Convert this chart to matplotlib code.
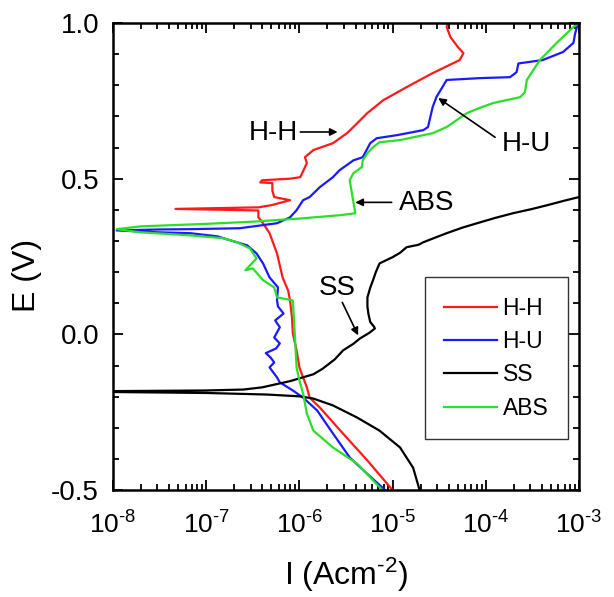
import numpy as np
import matplotlib
matplotlib.use("Agg")
import matplotlib.pyplot as plt
from matplotlib.ticker import FixedLocator, MultipleLocator, LogLocator, NullFormatter, FuncFormatter

plt.rcParams['font.family'] = ['Liberation Sans', 'DejaVu Sans']
plt.rcParams['mathtext.fontset'] = 'custom'
plt.rcParams['mathtext.rm'] = 'Liberation Sans'
plt.rcParams['mathtext.it'] = 'Liberation Sans:italic'
plt.rcParams['mathtext.bf'] = 'Liberation Sans:bold'
plt.rcParams['axes.unicode_minus'] = False

# ---- data: log10 of current density (A/cm^2) and potential (V) ----
hh_logI = [-5.00, -5.27, -5.56, -5.78, -5.89, -5.92, -5.96, -6.00, -6.03, -6.07, -6.08, -6.10,
           -6.12, -6.18, -6.24, -6.32, -6.39, -6.44, -6.44, -7.33, -6.44, -6.30, -6.10, -6.27,
           -6.29, -6.29, -6.42, -6.40, -6.10, -5.99, -5.92, -5.94, -5.85, -5.64, -5.49, -5.42,
           -5.27, -5.10, -4.85, -4.57, -4.28, -4.24, -4.30, -4.38, -4.42, -4.41]
hh_E = [-0.500, -0.405, -0.309, -0.235, -0.203, -0.170, -0.138, -0.106, -0.051, 0.003, 0.055, 0.109,
        0.140, 0.183, 0.260, 0.325, 0.357, 0.376, 0.398, 0.403, 0.408, 0.415, 0.431, 0.441,
        0.462, 0.486, 0.488, 0.495, 0.500, 0.505, 0.550, 0.569, 0.592, 0.614, 0.646, 0.666,
        0.711, 0.752, 0.794, 0.839, 0.881, 0.903, 0.923, 0.955, 0.987, 1.000]

hu_logI = [-5.08, -5.30, -5.46, -5.64, -5.81, -5.96, -6.07, -6.21, -6.24, -6.32, -6.27, -6.31,
           -6.36, -6.25, -6.21, -6.27, -6.21, -6.26, -6.17, -6.23, -6.24, -6.23, -6.32, -6.39,
           -6.46, -6.56, -6.74, -6.88, -7.17, -7.53, -7.96, -7.50, -7.17, -6.64, -6.24, -6.10,
           -6.03, -5.96, -5.89, -5.78, -5.64, -5.57, -5.42, -5.32, -5.24, -5.17, -4.95, -4.67,
           -4.62, -4.57, -4.53, -4.42, -4.06, -3.74, -3.67, -3.65, -3.39, -3.17, -3.06, -3.04, -3.01]
hu_E = [-0.500, -0.440, -0.395, -0.318, -0.244, -0.203, -0.180, -0.154, -0.138, -0.106, -0.090, -0.074,
        -0.060, -0.045, -0.029, -0.010, 0.023, 0.045, 0.067, 0.090, 0.109, 0.151, 0.183, 0.228,
        0.260, 0.286, 0.302, 0.315, 0.325, 0.328, 0.334, 0.337, 0.338, 0.341, 0.357, 0.376,
        0.399, 0.431, 0.441, 0.473, 0.505, 0.527, 0.559, 0.569, 0.614, 0.630, 0.640, 0.656,
        0.666, 0.730, 0.762, 0.817, 0.823, 0.826, 0.842, 0.870, 0.881, 0.907, 0.936, 0.968, 1.000]

ss_logI = [-4.71, -4.78, -4.92, -5.14, -5.38, -5.64, -5.85, -5.99, -6.35, -7.00, -7.98,
           -7.98, -7.00, -6.60, -6.40, -6.10, -5.85, -5.75, -5.62, -5.53, -5.42, -5.35, -5.25,
           -5.19, -5.20, -5.24, -5.26, -5.27, -5.27, -5.24, -5.21, -5.18, -5.14, -5.00, -4.92,
           -4.85, -4.72, -4.67, -4.55, -4.42, -4.25, -4.06, -3.90, -3.71, -3.50, -3.34, -3.15, -3.00]
ss_E = [-0.500, -0.428, -0.363, -0.309, -0.267, -0.228, -0.206, -0.199, -0.193, -0.188, -0.185,
        -0.182, -0.180, -0.177, -0.170, -0.150, -0.128, -0.110, -0.080, -0.051, -0.030, -0.013, 0.005,
        0.019, 0.025, 0.040, 0.067, 0.090, 0.119, 0.150, 0.174, 0.200, 0.228, 0.248, 0.262,
        0.280, 0.288, 0.296, 0.310, 0.325, 0.343, 0.360, 0.374, 0.389, 0.403, 0.415, 0.430, 0.441]

abs_logI = [-5.11, -5.38, -5.64, -5.85, -5.92, -5.96, -6.00, -6.03, -6.05, -6.07, -6.24, -6.27,
            -6.39, -6.50, -6.58, -6.46, -6.53, -6.67, -6.82, -7.17, -7.71, -7.96, -7.70, -7.00,
            -6.50, -6.00, -5.56, -5.40, -5.46, -5.42, -5.33, -5.32, -5.27, -5.21, -5.14, -4.92,
            -4.78, -4.57, -4.42, -4.20, -4.06, -3.92, -3.63, -3.58, -3.56, -3.42, -3.24, -3.06, -3.00]
abs_E = [-0.500, -0.415, -0.363, -0.309, -0.254, -0.190, -0.148, -0.106, 0.003, 0.109, 0.119, 0.151,
         0.174, 0.212, 0.206, 0.244, 0.276, 0.296, 0.309, 0.318, 0.328, 0.338, 0.347, 0.355,
         0.362, 0.372, 0.383, 0.389, 0.495, 0.518, 0.537, 0.559, 0.582, 0.601, 0.617, 0.624,
         0.633, 0.646, 0.666, 0.711, 0.728, 0.743, 0.762, 0.778, 0.817, 0.881, 0.936, 0.987, 1.000]

series_names = ['H-H', 'H-U', 'SS', 'ABS']
series_colors = ['#ff1a1a', '#1a1aff', '#000000', '#2ade2a']

x_ticks = [1e-8, 1e-7, 1e-6, 1e-5, 1e-4, 1e-3]
y_ticks = [-0.5, 0.0, 0.5, 1.0]

fig = plt.figure(figsize=(6.14, 5.97), dpi=100)
ax = fig.add_axes([0.184, 0.179, 0.759, 0.7825])

data = [(hh_logI, hh_E), (hu_logI, hu_E), (ss_logI, ss_E), (abs_logI, abs_E)]
for (lg, e), name, col in zip(data, series_names, series_colors):
    ax.plot(10 ** np.array(lg), e, color=col, lw=1.6, label=name)

ax.set_xscale('log')
ax.set_xlim(1e-8, 1e-3)
ax.set_ylim(-0.5, 1.0)
ax.xaxis.set_major_locator(FixedLocator(x_ticks))
ax.xaxis.set_major_formatter(FuncFormatter(
    lambda v, p: r'$10^{\text{%d}}$' % int(round(np.log10(v)))))
ax.xaxis.set_minor_locator(LogLocator(base=10, subs=np.arange(2, 10), numticks=20))
ax.xaxis.set_minor_formatter(NullFormatter())
ax.yaxis.set_major_locator(FixedLocator(y_ticks))
ax.yaxis.set_minor_locator(MultipleLocator(0.1))
ax.yaxis.set_major_formatter(FuncFormatter(lambda v, p: '%.1f' % v))

for s in ax.spines.values():
    s.set_linewidth(1.8)
ax.tick_params(which='both', direction='in', top=True, right=True, width=1.3)
ax.tick_params(which='major', length=7)
ax.tick_params(which='minor', length=4)
ax.tick_params(axis='x', which='major', labelsize=19, pad=15)
ax.tick_params(axis='y', which='major', labelsize=20, pad=10)

ax.set_xlabel(r'I (Acm$^{\text{-2}}$)', fontsize=23)
ax.set_ylabel('E (V)', fontsize=23)
ax.xaxis.set_label_coords(0.5, -0.14)
ax.yaxis.set_label_coords(-0.152, 0.46)

ap = dict(arrowstyle='-|>', color='black', lw=1.2, mutation_scale=11, shrinkA=0, shrinkB=0)
ax.annotate('', xy=(10 ** -5.59, 0.650), xytext=(10 ** -5.99, 0.650), arrowprops=ap)
ax.text(10 ** -6.28, 0.648, 'H-H', fontsize=20, ha='center', va='center')
ax.annotate('', xy=(10 ** -4.51, 0.759), xytext=(10 ** -3.90, 0.633), arrowprops=ap)
ax.text(10 ** -3.57, 0.612, 'H-U', fontsize=20, ha='center', va='center')
ax.annotate('', xy=(10 ** -5.40, 0.424), xytext=(10 ** -5.01, 0.424), arrowprops=ap)
ax.text(10 ** -4.63, 0.422, 'ABS', fontsize=20, ha='center', va='center')
ax.annotate('', xy=(10 ** -5.37, -0.003), xytext=(10 ** -5.54, 0.103), arrowprops=ap)
ax.text(10 ** -5.59, 0.149, 'SS', fontsize=20, ha='center', va='center')

leg = ax.legend(loc='upper right', bbox_to_anchor=(0.976, 0.456), fontsize=16.5,
                frameon=True, fancybox=False, edgecolor='#333333', framealpha=1,
                handlelength=2.3, handletextpad=0.25, labelspacing=0.45,
                borderpad=0.85, borderaxespad=0)
leg.get_frame().set_linewidth(1.0)

fig.savefig('out.png', dpi=100)
